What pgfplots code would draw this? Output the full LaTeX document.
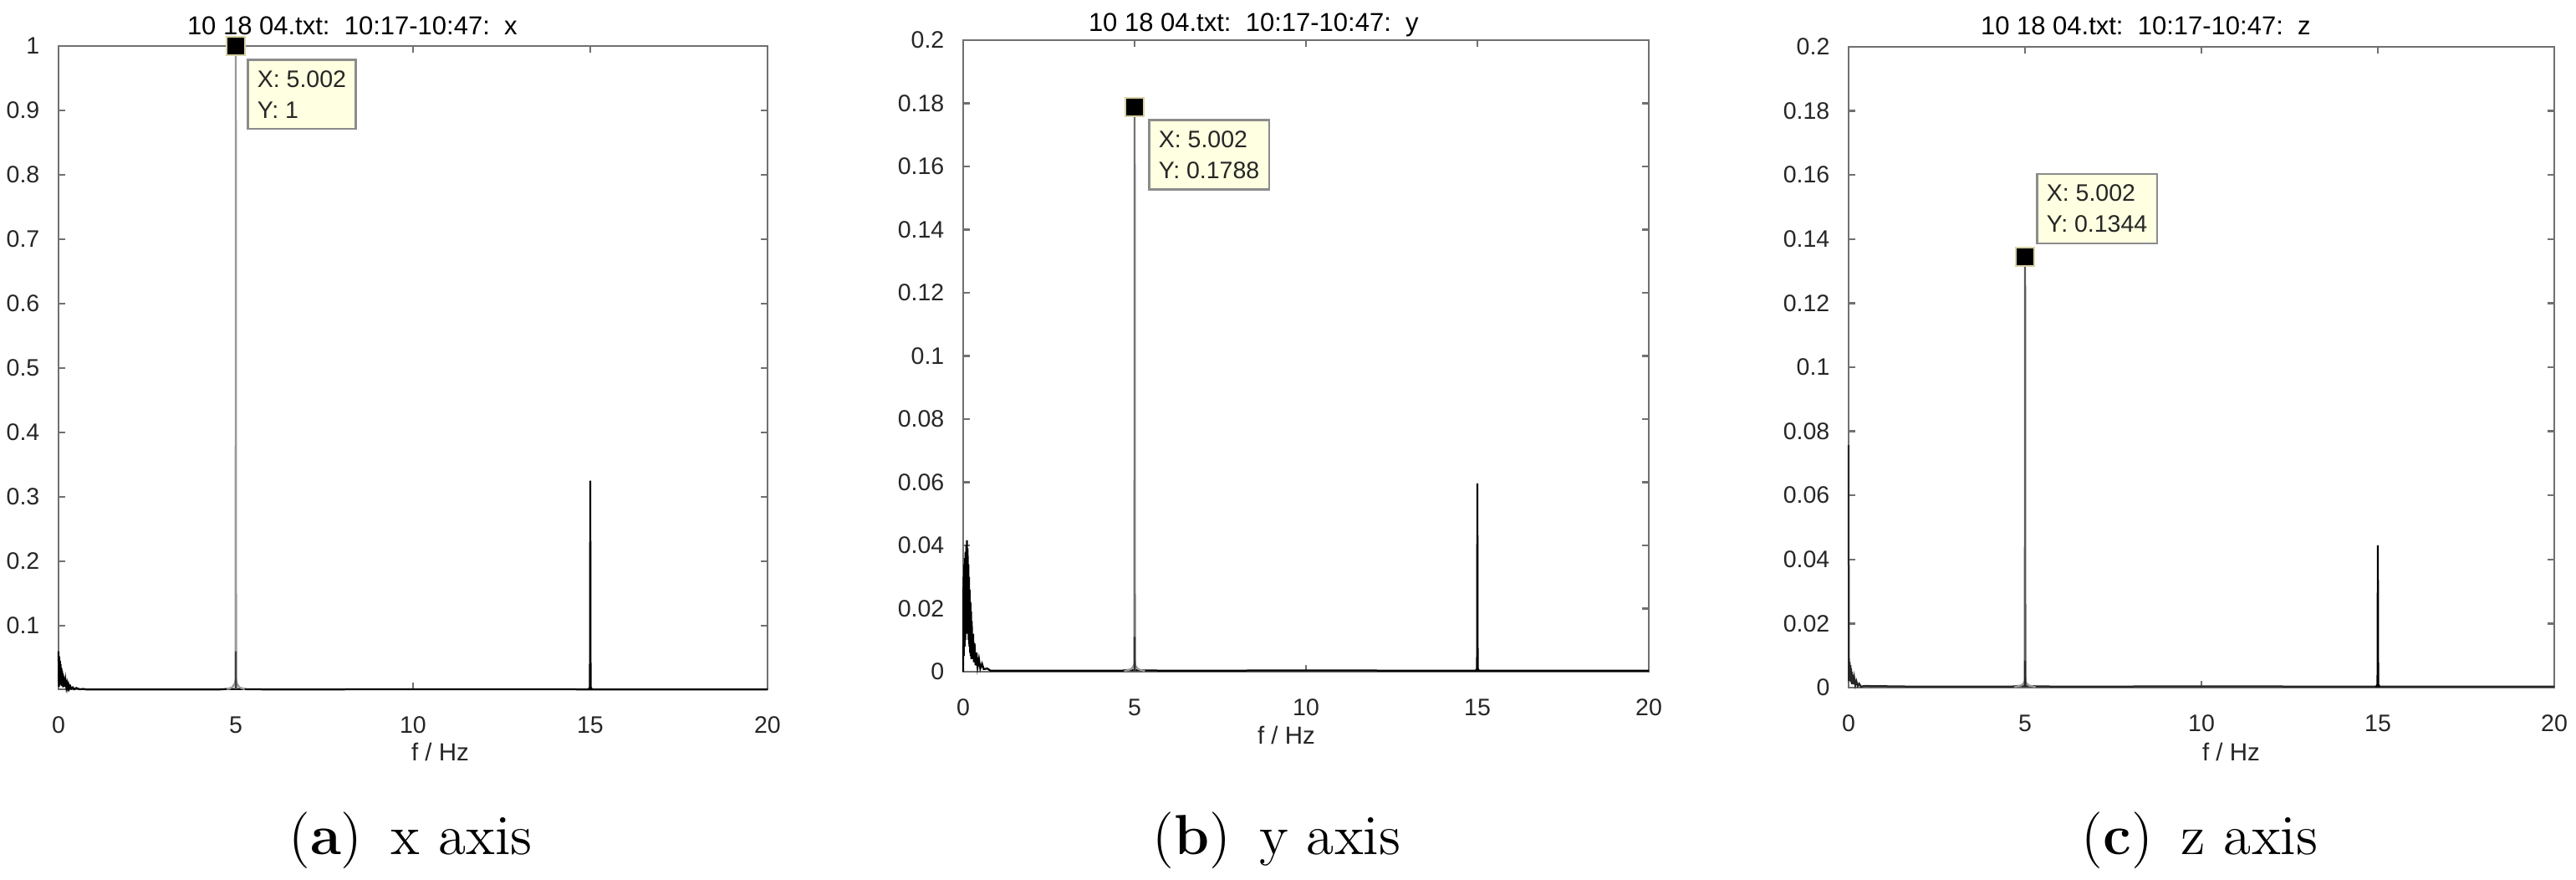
\documentclass[border=0pt]{standalone}
\usepackage{fontspec}
\usepackage{pgfplots}
\pgfplotsset{compat=1.18}
\newfontfamily\mfont{Liberation Sans}
\definecolor{tipfill}{HTML}{FFFFE1}
\definecolor{tipedge}{HTML}{8C8C8C}
\definecolor{axgray}{HTML}{707070}
\definecolor{tickgray}{HTML}{262626}
\definecolor{mkedge}{HTML}{D8D2A6}

\pgfplotsset{matlab/.style={scale only axis,anchor=south west,clip=false,
  xmin=0,xmax=20,xtick={0,5,10,15,20},
  axis line style={axgray,line width=0.55pt},
  tick style={axgray,line width=0.5pt},major tick length=1.6pt,tick align=inside,
  tick label style={font=\mfont\fontsize{5.7}{6.8}\selectfont,text=tickgray},
  /pgf/number format/assume math mode=true,
  xticklabel style={yshift=-3pt},yticklabel style={xshift=-1pt},
  every axis plot/.append style={line width=0.45pt,mark=none}},
  peak/.style={only marks,mark=square*,mark size=2.2pt,mark options={fill=black,draw=mkedge,line width=0.3pt}}}
\tikzset{tip/.style={draw=tipedge,line width=0.5pt,fill=tipfill,align=left,inner xsep=2.3pt,inner ysep=2.6pt,
  font=\mfont\fontsize{5.7}{7.4}\selectfont,text=tickgray}}

\begin{document}
\begin{tikzpicture}
\useasboundingbox (0,0) rectangle (616.2pt,210.4pt);

% ---- (a) x axis
\begin{axis}[matlab,at={(14pt,45.6pt)},width=169.6pt,height=153.8pt,
  ymin=0.001,ymax=1,ytick={0.1,0.2,0.3,0.4,0.5,0.6,0.7,0.8,0.9,1},
  yticklabels={0.1,0.2,0.3,0.4,0.5,0.6,0.7,0.8,0.9,1}]
 \addplot[black] coordinates {(0,0.06) (0.01,0.005) (0.02,0.052) (0.03,0.01) (0.04,0.045) (0.05,0.008)
  (0.06,0.04) (0.07,0.012) (0.08,0.034) (0.09,0.006) (0.10,0.03) (0.11,0.01) (0.12,0.026) (0.13,0.004)
  (0.14,0.022) (0.15,0.008) (0.16,0.019) (0.17,0.005) (0.18,0.016) (0.19,0.006) (0.2,0.013) (0.22,0.004)
  (0.24,0.010) (0.26,0.003) (0.28,0.008) (0.30,0.002) (0.33,0.006) (0.36,0.002) (0.40,0.004) (0.44,0.001)
  (0.5,0.003) (0.6,0.001) (0.7,0.0015) (0.8,0.0005) (2,0.0008) (4.5,0.0006) (4.8,0.0015) (6,0.0006) (10,0.001) (14.8,0.0008) (20,0.0006)};
 \addplot[black!40] coordinates {(4.75,0.001) (4.9,0.004) (4.97,0.01) (5.0,0.016) (5.03,0.01) (5.1,0.004) (5.25,0.001)};
 \addplot[black!40] coordinates {(4.994,0.001) (5.002,1) (5.01,0.001)};
 \addplot[black!75] coordinates {(4.997,0.001) (5.0,0.06) (5.004,0.001)};
 \addplot[black] coordinates {(14.95,0.001) (14.99,0.004) (15.0,0.325) (15.01,0.004) (15.05,0.001)};
 \addplot[peak] coordinates {(5.002,1)};
 \node[tip,anchor=north west,xshift=2.6pt,yshift=-3pt] at (axis cs:5.002,1) {X: 5.002\\Y: 1};
\end{axis}

% ---- (b) y axis
\begin{axis}[matlab,at={(230.4pt,49.8pt)},width=164pt,height=151pt,
  ymin=0,ymax=0.2,ytick={0,0.02,0.04,0.06,0.08,0.1,0.12,0.14,0.16,0.18,0.2},
  yticklabels={0,0.02,0.04,0.06,0.08,0.1,0.12,0.14,0.16,0.18,0.2}]
 \addplot[black] coordinates {(0,0.0) (0.01,0.03) (0.02,0.005) (0.03,0.034) (0.04,0.008) (0.05,0.036)
  (0.06,0.01) (0.07,0.038) (0.08,0.012) (0.09,0.04) (0.10,0.015) (0.11,0.0416) (0.12,0.02) (0.13,0.039)
  (0.14,0.012) (0.15,0.034) (0.16,0.01) (0.17,0.03) (0.18,0.008) (0.19,0.026) (0.20,0.006) (0.21,0.022)
  (0.22,0.005) (0.23,0.019) (0.24,0.004) (0.25,0.016) (0.27,0.004) (0.29,0.012) (0.31,0.003) (0.33,0.009)
  (0.36,0.002) (0.39,0.006) (0.42,0.0015) (0.46,0.004) (0.5,0.001) (0.55,0.0025) (0.6,0.0008) (0.7,0.001)
  (0.8,0.0003) (2,0.0003) (4.6,0.0003) (4.8,0.0005) (6,0.0003) (10,0.0004) (14.8,0.0003) (20,0.0003)};
 \addplot[black!40] coordinates {(4.7,0.0002) (4.9,0.0008) (4.97,0.0018) (5.0,0.0026) (5.03,0.0018) (5.1,0.0008) (5.3,0.0002)};
 \addplot[black!55] coordinates {(4.994,0.0002) (5.002,0.1788) (5.01,0.0002)};
 \addplot[black!80] coordinates {(4.997,0.0002) (5.0,0.011) (5.004,0.0002)};
 \addplot[black] coordinates {(14.95,0.0002) (14.99,0.001) (15.0,0.0596) (15.01,0.001) (15.05,0.0002)};
 \addplot[peak] coordinates {(5.002,0.1788)};
 \node[tip,anchor=north west,xshift=3.2pt,yshift=-2.8pt] at (axis cs:5.002,0.1788) {X: 5.002\\Y: 0.1788};
\end{axis}

% ---- (c) z axis
\begin{axis}[matlab,at={(442.2pt,46pt)},width=168.8pt,height=153.2pt,
  ymin=0,ymax=0.2,ytick={0,0.02,0.04,0.06,0.08,0.1,0.12,0.14,0.16,0.18,0.2},
  yticklabels={0,0.02,0.04,0.06,0.08,0.1,0.12,0.14,0.16,0.18,0.2}]
 \addplot[black!85] coordinates {(0,0.0757) (0.005,0.002) (0.01,0.009) (0.02,0.003) (0.03,0.008) (0.04,0.002)
  (0.05,0.007) (0.06,0.002) (0.07,0.006) (0.08,0.0015) (0.09,0.005) (0.1,0.001) (0.12,0.004) (0.14,0.001)
  (0.16,0.003) (0.19,0.0008) (0.22,0.002) (0.26,0.0005) (0.3,0.0012) (0.35,0.0003) (0.45,0.0005)
  (2,0.0003) (4.6,0.0003) (4.8,0.0005) (6,0.0003) (10,0.0004) (14.8,0.0003) (20,0.0003)};
 \addplot[black!40] coordinates {(4.7,0.0002) (4.9,0.0007) (4.97,0.0015) (5.0,0.0022) (5.03,0.0015) (5.1,0.0007) (5.3,0.0002)};
 \addplot[black!65] coordinates {(4.994,0.0002) (5.002,0.1344) (5.01,0.0002)};
 \addplot[black!85] coordinates {(4.997,0.0002) (5.0,0.0084) (5.004,0.0002)};
 \addplot[black] coordinates {(14.95,0.0002) (14.99,0.001) (15.0,0.0444) (15.01,0.001) (15.05,0.0002)};
 \addplot[peak] coordinates {(5.002,0.1344)};
 \node[tip,anchor=south west,xshift=2.6pt,yshift=3pt] at (axis cs:5.002,0.1344) {X: 5.002\\Y: 0.1344};
\end{axis}

% titles, axis labels and captions
\begin{scope}[every node/.style={font=\mfont\fontsize{6.2}{7}\selectfont,text=black,inner sep=0pt}]
 \node[anchor=base west] at (44.6pt,202pt) {10 18 04.txt:\ \ 10:17-10:47:\ \ x};
 \node[anchor=base west] at (260.2pt,202.8pt) {10 18 04.txt:\ \ 10:17-10:47:\ \ y};
 \node[anchor=base west] at (473.6pt,202pt) {10 18 04.txt:\ \ 10:17-10:47:\ \ z};
 \node[anchor=base west,font=\mfont\fontsize{5.9}{7}\selectfont,text=tickgray] at (98.2pt,28.4pt) {f / Hz};
 \node[anchor=base west,font=\mfont\fontsize{5.9}{7}\selectfont,text=tickgray] at (300.6pt,32.4pt) {f / Hz};
 \node[anchor=base west,font=\mfont\fontsize{5.9}{7}\selectfont,text=tickgray] at (526.6pt,28.4pt) {f / Hz};
\end{scope}
\begin{scope}[every node/.style={font=\fontsize{13.5}{15}\selectfont,inner sep=0pt,anchor=base}]
 \node at (98.2pt,6pt) {(\textbf{a})\enspace x axis};
 \node at (305.4pt,6pt) {(\textbf{b})\enspace y axis};
 \node at (526.2pt,6pt) {(\textbf{c})\enspace z axis};
\end{scope}
\end{tikzpicture}
\end{document}
